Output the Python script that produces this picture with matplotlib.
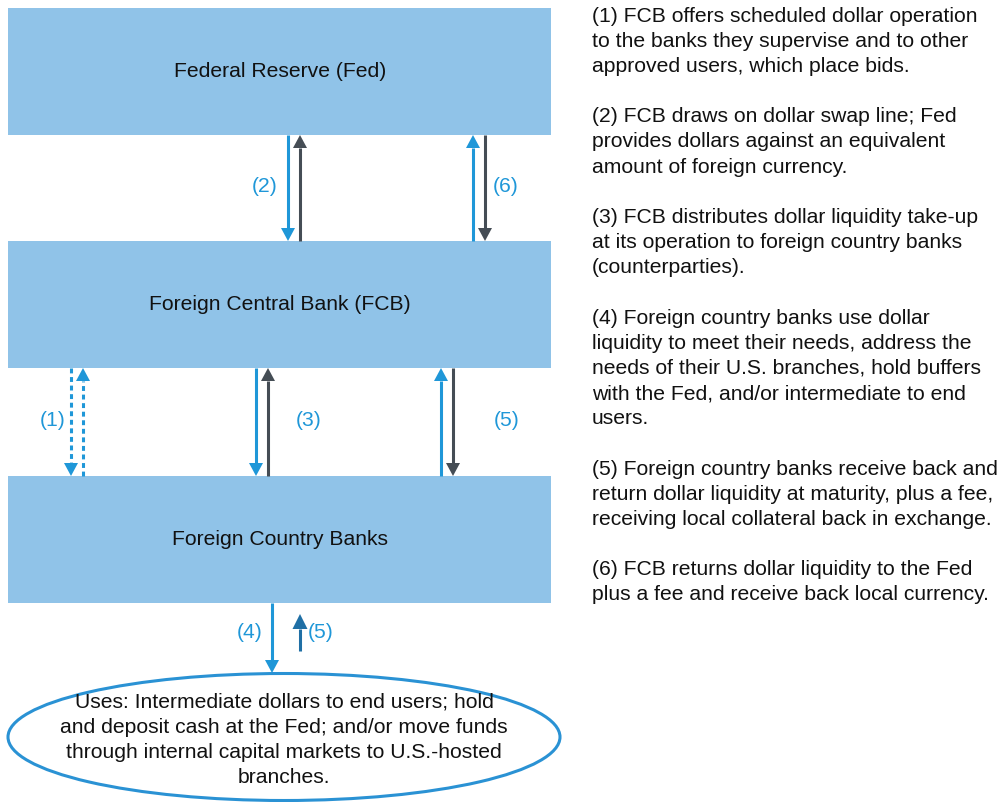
import matplotlib.pyplot as plt
from matplotlib.patches import Rectangle, Ellipse, Polygon

plt.rcParams['font.family'] = ['Liberation Sans', 'DejaVu Sans']

# box labels, top to bottom
boxes = ["Federal Reserve (Fed)", "Foreign Central Bank (FCB)", "Foreign Country Banks"]
box_top = [8, 241, 476]
box_h = 127

uses = ["Uses: Intermediate dollars to end users; hold",
        "and deposit cash at the Fed; and/or move funds",
        "through internal capital markets to U.S.-hosted",
        "branches."]

notes = [
    "(1) FCB offers scheduled dollar operation",
    "to the banks they supervise and to other",
    "approved users, which place bids.",
    "",
    "(2) FCB draws on dollar swap line; Fed",
    "provides dollars against an equivalent",
    "amount of foreign currency.",
    "",
    "(3) FCB distributes dollar liquidity take-up",
    "at its operation to foreign country banks",
    "(counterparties).",
    "",
    "(4) Foreign country banks use dollar",
    "liquidity to meet their needs, address the",
    "needs of their U.S. branches, hold buffers",
    "with the Fed, and/or intermediate to end",
    "users.",
    "",
    "(5) Foreign country banks receive back and",
    "return dollar liquidity at maturity, plus a fee,",
    "receiving local collateral back in exchange.",
    "",
    "(6) FCB returns dollar liquidity to the Fed",
    "plus a fee and receive back local currency.",
]

BOX = "#90c3e8"
BLUE = "#1f97d8"
DARK = "#454d55"
DBLUE = "#1f6fa5"
FS = 15.2

fig = plt.figure(figsize=(10.08, 8.02), dpi=100)
ax = fig.add_axes([0, 0, 1, 1])
ax.set_xlim(0, 1008)
ax.set_ylim(802, 0)
ax.axis('off')

for name, top in zip(boxes, box_top):
    ax.add_patch(Rectangle((8, top), 543, box_h, facecolor=BOX, edgecolor='none'))
    ax.text(280, top + box_h / 2, name, ha='center', va='center', fontsize=FS, color='#111111')


def arrow(x, y0, y1, color, dotted=False, hw=7, hl=13):
    # line from y0 to tip y1
    d = 1 if y1 > y0 else -1
    ls = (0, (1.6, 1.2)) if dotted else '-'
    ax.plot([x, x], [y0, y1 - d * hl], color=color, lw=2.2, ls=ls, solid_capstyle='butt')
    ax.add_patch(Polygon([(x - hw, y1 - d * hl), (x + hw, y1 - d * hl), (x, y1)],
                         closed=True, facecolor=color, edgecolor='none'))


# (2) and (6): Fed <-> FCB
arrow(288, 135, 241, BLUE)
arrow(300, 241, 135, DARK)
arrow(473, 241, 135, BLUE)
arrow(485, 135, 241, DARK)
# (1), (3), (5): FCB <-> banks
arrow(71, 368, 476, BLUE, dotted=True)
arrow(83, 476, 368, BLUE, dotted=True)
arrow(256, 368, 476, BLUE)
arrow(268, 476, 368, DARK)
arrow(441, 476, 368, BLUE)
arrow(453, 368, 476, DARK)
# (4), (5): banks <-> uses
arrow(272, 603, 673, BLUE)
arrow(300, 651, 614, DBLUE, hw=7.5, hl=15)

lab = dict(ha='center', va='center', fontsize=FS, color=BLUE)
ax.text(265, 187, "(2)", **lab)
ax.text(506, 187, "(6)", **lab)
ax.text(53, 421, "(1)", **lab)
ax.text(309, 421, "(3)", **lab)
ax.text(507, 421, "(5)", **lab)
ax.text(250, 633, "(4)", **lab)
ax.text(321, 633, "(5)", **lab)

ax.add_patch(Ellipse((284, 737), 552, 127, facecolor='white', edgecolor='#2a92d4', lw=2.2))
for i, line in enumerate(uses):
    ax.text(284, 702 + 25.3 * i, line, ha='center', va='center', fontsize=FS, color='#111111')

for i, line in enumerate(notes):
    ax.text(592, 16 + 25.17 * i, line, ha='left', va='center', fontsize=FS, color='#111111')

fig.savefig("out.png", dpi=100)
